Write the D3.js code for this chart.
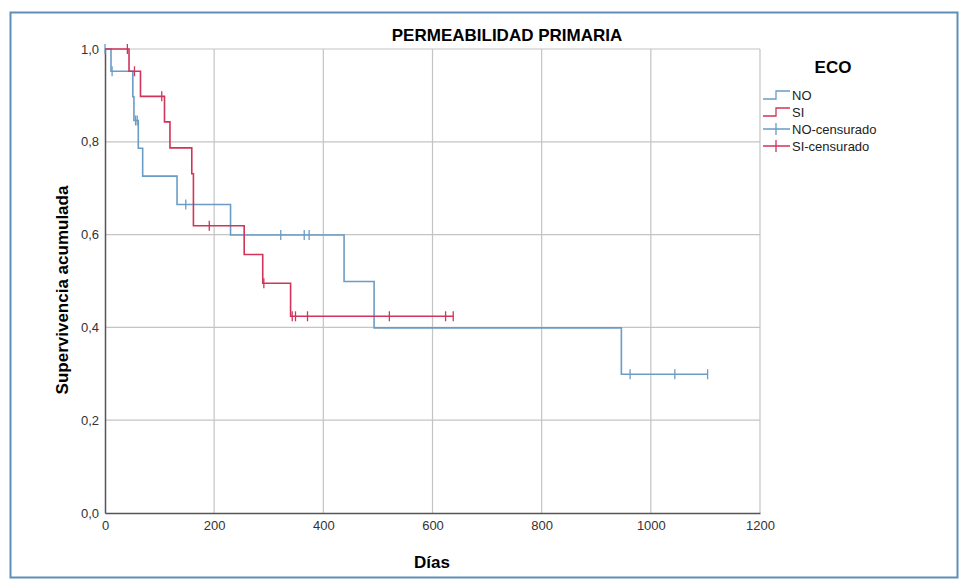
<!DOCTYPE html>
<html>
<head>
<meta charset="utf-8">
<script src="https://cdn.jsdelivr.net/npm/d3@7"></script>
<style>
  body { margin: 0; background: #fff; }
  text { font-family: "Liberation Sans", Arial, sans-serif; }
</style>
</head>
<body>
<div id="chart"></div>
<script>
// Kaplan-Meier steps: [day, survival]
const noSteps = [[0, 1], [11, 0.952], [51, 0.897], [53, 0.846], [61, 0.786], [69, 0.726],
  [132, 0.665], [230, 0.599], [438, 0.499], [493, 0.399], [946, 0.299]];
const noEnd = 1104;
const noCensored = [[0, 1], [13, 0.952], [56, 0.846], [59, 0.846], [148, 0.665], [322, 0.599],
  [365, 0.599], [374, 0.599], [962, 0.299], [1044, 0.299], [1104, 0.299]];

const siSteps = [[0, 1], [44, 0.952], [65, 0.898], [109, 0.843], [119, 0.787], [159, 0.731],
  [162, 0.619], [255, 0.557], [289, 0.495], [340, 0.424]];
const siEnd = 638;
const siCensored = [[41, 1], [54, 0.952], [104, 0.898], [191, 0.619], [291, 0.495], [343, 0.424],
  [349, 0.424], [371, 0.424], [521, 0.424], [624, 0.424], [638, 0.424]];

const xTicks = [0, 200, 400, 600, 800, 1000, 1200];
const yTicks = [0, 0.2, 0.4, 0.6, 0.8, 1.0];
const legendLabels = ["NO", "SI", "NO-censurado", "SI-censurado"];

const blue = "#6a9cc6";
const red = "#d1345a";

let svgWidth = 968;
let svgHeight = 579;
let margin = { top: 49, left: 105 };
let width = 655;
let height = 464;

let svg = d3.select("#chart").append("svg")
  .attr("width", svgWidth)
  .attr("height", svgHeight);

// outer frame
svg.append("rect")
  .attr("x", 10.5).attr("y", 12.5)
  .attr("width", 947).attr("height", 565)
  .attr("fill", "none")
  .attr("stroke", "#5d8fb8")
  .attr("stroke-width", 2);

let chart = svg.append("g")
  .attr("transform", `translate(${margin.left}, ${margin.top})`);

let x = d3.scaleLinear().domain([0, 1200]).range([0, width]);
let y = d3.scaleLinear().domain([0, 1]).range([height, 0]);

// grid
chart.append("g")
  .selectAll("line.vg")
  .data(xTicks.slice(1))
  .enter().append("line")
  .attr("x1", d => x(d)).attr("x2", d => x(d))
  .attr("y1", 0).attr("y2", height)
  .attr("stroke", "#c4c4c4").attr("stroke-width", 1.2);

chart.append("g")
  .selectAll("line.hg")
  .data(yTicks.slice(1))
  .enter().append("line")
  .attr("x1", 0).attr("x2", width)
  .attr("y1", d => y(d)).attr("y2", d => y(d))
  .attr("stroke", "#c4c4c4").attr("stroke-width", 1.2);

// axes
let xAxis = d3.axisBottom(x).tickValues(xTicks).tickSize(0).tickPadding(8)
  .tickFormat(d3.format("d"));
let yAxis = d3.axisLeft(y).tickValues(yTicks).tickSize(0).tickPadding(6)
  .tickFormat(d => d.toFixed(1).replace(".", ","));

let gx = chart.append("g")
  .attr("transform", `translate(0, ${height})`)
  .call(xAxis);
let gy = chart.append("g").call(yAxis);

[gx, gy].forEach(g => {
  g.select(".domain").attr("stroke", "#555").attr("stroke-width", 1.5);
  g.selectAll("text").attr("font-size", "13px").attr("fill", "#333");
});

// curves
let stepLine = d3.line()
  .x(d => x(d[0]))
  .y(d => y(d[1]))
  .curve(d3.curveStepAfter);

function drawCurve(steps, end, censored, color) {
  let pts = steps.concat([[end, steps[steps.length - 1][1]]]);
  chart.append("path")
    .datum(pts)
    .attr("d", stepLine)
    .attr("fill", "none")
    .attr("stroke", color)
    .attr("stroke-width", 1.6);

  chart.append("g")
    .selectAll("line")
    .data(censored)
    .enter().append("line")
    .attr("x1", d => x(d[0])).attr("x2", d => x(d[0]))
    .attr("y1", d => y(d[1]) - 5).attr("y2", d => y(d[1]) + 5)
    .attr("stroke", color)
    .attr("stroke-width", 1.3);
}

drawCurve(noSteps, noEnd, noCensored, blue);
drawCurve(siSteps, siEnd, siCensored, red);

// titles
svg.append("text")
  .attr("x", 507).attr("y", 41)
  .attr("text-anchor", "middle")
  .attr("font-size", "17px").attr("font-weight", "bold")
  .text("PERMEABILIDAD PRIMARIA");

svg.append("text")
  .attr("transform", "translate(68, 290) rotate(-90)")
  .attr("text-anchor", "middle")
  .attr("font-size", "17px").attr("font-weight", "bold")
  .text("Supervivencia acumulada");

svg.append("text")
  .attr("x", 432).attr("y", 568)
  .attr("text-anchor", "middle")
  .attr("font-size", "17px").attr("font-weight", "bold")
  .text("Días");

// legend
let legend = svg.append("g").attr("transform", "translate(763, 0)");

legend.append("text")
  .attr("x", 70).attr("y", 73)
  .attr("text-anchor", "middle")
  .attr("font-size", "17px").attr("font-weight", "bold")
  .text("ECO");

let legendColors = [blue, red, blue, red];
let legendY = [95, 112, 129, 146];

legendLabels.forEach((label, i) => {
  let cy = legendY[i];
  let c = legendColors[i];
  if (i < 2) {
    legend.append("path")
      .attr("d", `M0,${cy + 4}H13V${cy - 4}H27`)
      .attr("fill", "none").attr("stroke", c).attr("stroke-width", 1.3);
  } else {
    legend.append("path")
      .attr("d", `M0,${cy}H27M13,${cy - 6}V${cy + 6}`)
      .attr("fill", "none").attr("stroke", c).attr("stroke-width", 1.3);
  }
  legend.append("text")
    .attr("x", 29).attr("y", cy + 4.5)
    .attr("font-size", "13px").attr("fill", "#222")
    .text(label);
});
</script>
</body>
</html>
